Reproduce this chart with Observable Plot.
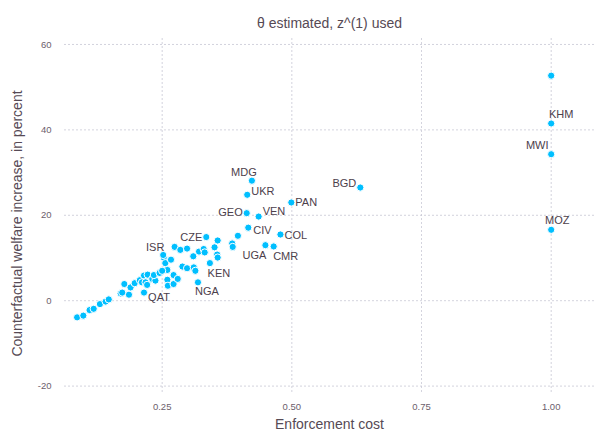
<!DOCTYPE html>
<html>
<head>
<meta charset="utf-8">
<script src="https://cdn.jsdelivr.net/npm/d3@7"></script>
<script src="https://cdn.jsdelivr.net/npm/@observablehq/plot@0.6"></script>
<style>
  html, body { margin: 0; padding: 0; background: #fff; }
  #chart svg { display: block; }
</style>
</head>
<body>
<div id="chart"></div>
<script>
// Country codes (empty string = unlabelled country)
const codes = [
  "", "", "", "", "", "", "", "", "", "",
  "", "", "", "", "", "", "", "", "", "",
  "", "", "", "", "", "", "", "", "", "",
  "", "", "", "", "", "", "", "", "", "",
  "", "", "", "", "", "", "", "", "", "",
  "", "",
  "ISR", "QAT", "CZE", "KEN", "NGA", "UGA", "CMR", "CIV", "COL",
  "GEO", "VEN", "UKR", "MDG", "PAN", "BGD", "KHM", "MWI", "MOZ"
];

// Enforcement cost per country
const cost = [
  0.086, 0.098, 0.110, 0.118, 0.130, 0.141, 0.147, 0.170, 0.173, 0.186,
  0.177, 0.189, 0.197, 0.207, 0.215, 0.222, 0.211, 0.218, 0.221, 0.231,
  0.237, 0.234, 0.245, 0.253, 0.256, 0.267, 0.260, 0.250, 0.272, 0.260,
  0.261, 0.272, 0.280, 0.274, 0.285, 0.298, 0.289, 0.298, 0.311, 0.314,
  0.310, 0.321, 0.330, 0.332, 0.351, 0.357, 0.356, 0.357, 0.385, 0.386,
  0.396, 1.000,
  0.252, 0.215, 0.335, 0.342, 0.319, 0.449, 0.465, 0.416, 0.478,
  0.413, 0.436, 0.414, 0.423, 0.499, 0.632, 1.000, 1.000, 1.000
];

// Counterfactual welfare increase, in percent
const welfare = [
  -3.9, -3.5, -2.2, -1.9, -0.8, -0.2, 0.3, 1.7, 1.9, 1.4,
  3.9, 3.1, 4.1, 4.8, 5.9, 6.1, 4.3, 4.3, 3.7, 5.1,
  4.7, 6.0, 6.5, 10.1, 8.8, 9.6, 7.2, 7.0, 6.0, 4.9,
  3.5, 3.9, 5.1, 12.6, 11.9, 12.2, 8.0, 7.6, 7.8, 7.0,
  10.4, 11.5, 12.1, 11.3, 12.5, 14.1, 10.8, 10.1, 13.4, 12.6,
  15.2, 52.7,
  10.7, 1.9, 14.9, 8.8, 4.3, 13.0, 12.7, 17.1, 15.5,
  20.5, 19.7, 24.8, 28.1, 23.0, 26.5, 41.5, 34.3, 16.6
];

const xTicks = [0.25, 0.5, 0.75, 1.0];
const yTicks = [-20, 0, 20, 40, 60];

const titleText = "θ estimated, z^(1) used";
const xLabel = "Enforcement cost";
const yLabel = "Counterfactual welfare increase, in percent";

// Label placement around each marked point: [dx, dy, anchor]
const placement = {
  ISR: [-8, -8, "middle"], QAT: [15, 5, "middle"], CZE: [-4, 0, "end"],
  KEN: [9, 10, "middle"], NGA: [9, 9, "middle"], UGA: [-11, 10, "middle"],
  CMR: [12, 10, "middle"], CIV: [5, 3, "start"], COL: [4, 1, "start"],
  GEO: [-4, -1, "end"], VEN: [4, -5, "start"], UKR: [4, -3, "start"],
  MDG: [-8, -8, "middle"], PAN: [4, 0, "start"], BGD: [-4, -4, "end"],
  KHM: [10, -9, "middle"], MWI: [-14, -9, "middle"], MOZ: [6, -9, "middle"]
};

const rows = codes.map((c, i) => ({code: c, cost: cost[i], welfare: welfare[i]}));
const labelled = rows.filter(d => d.code !== "");

const font = "'Liberation Sans', Arial, Helvetica, sans-serif";
const gridStyle = {stroke: "#C8C8D4", strokeOpacity: 1, strokeWidth: 0.8, strokeDasharray: "2,2"};

const labelMarks = labelled.map(d => Plot.text([d], {
  x: "cost", y: "welfare", text: "code",
  dx: placement[d.code][0], dy: placement[d.code][1],
  textAnchor: placement[d.code][2], fontSize: 11, fill: "#4c404b"
}));

const chart = Plot.plot({
  width: 597,
  height: 440,
  marginTop: 38,
  marginBottom: 48,
  marginLeft: 64,
  marginRight: 3,
  style: {fontFamily: font, background: "#fff"},
  x: {domain: [0.0617, 1.0835]},
  y: {domain: [-21.5, 61.4]},
  marks: [
    Plot.gridX(xTicks, gridStyle),
    Plot.gridY(yTicks, gridStyle),
    Plot.axisX(xTicks, {tickSize: 0, tickPadding: 11, tickFormat: d3.format(".2f"),
      fontSize: 9.5, color: "#6c606b", label: null}),
    Plot.axisY(yTicks, {tickSize: 0, tickPadding: 13, fontSize: 9.5,
      tickFormat: d => `${d}`, color: "#6c606b", label: null}),
    Plot.dot(rows, {x: "cost", y: "welfare", r: 3.6, fill: "#00BFFF",
      stroke: "white", strokeWidth: 1}),
    ...labelMarks,
    Plot.text([titleText], {frameAnchor: "top", dy: -20, fontSize: 14, fill: "#564a55"}),
    Plot.text([xLabel], {frameAnchor: "bottom", dy: 36, fontSize: 14, fill: "#564a55"}),
    Plot.text([yLabel], {frameAnchor: "left", textAnchor: "middle", dx: -47, dy: 8,
      rotate: -90, fontSize: 14, fill: "#564a55"})
  ]
});

document.getElementById("chart").appendChild(chart);
</script>
</body>
</html>
